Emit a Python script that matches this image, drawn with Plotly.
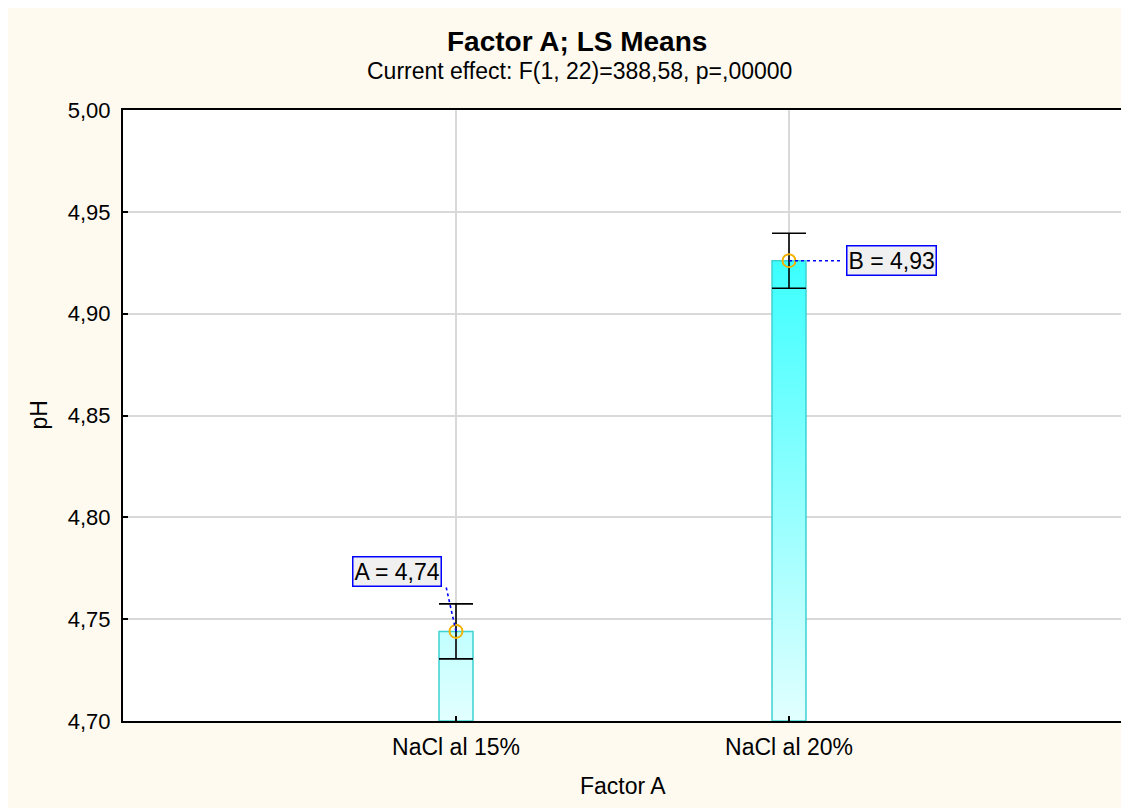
import plotly.graph_objects as go

# ---- data ----
categories = ["NaCl al 15%", "NaCl al 20%"]
point_labels = ["A", "B"]
means = [4.744, 4.926]
errors = [0.0135, 0.0135]
y_min = 4.70
y_max = 5.00
y_ticks = [4.70, 4.75, 4.80, 4.85, 4.90, 4.95, 5.00]

title = "Factor A; LS Means"
subtitle = "Current effect: F(1, 22)=388,58, p=,00000"
x_title = "Factor A"
y_title = "pH"

# ---- style ----
FONT = "Liberation Sans, Arial, sans-serif"
CREAM = "#FEFAF0"
BAR_HALF = 0.051
label_offsets = [(-59.5, 59.5), (102.5, 0)]   # px offsets of label boxes
line_ends = [(-10, 45), (53, 0)]             # px ends of dotted leaders

# page places the figure at (8, 8) (body margin)
BODY = 8
W, H = 1129, 808
SX0, SX1, SY0, SY1 = 123, 1122, 110, 721   # plot area on screen
L = SX0 - BODY
T = SY0 - BODY
R = W - (SX1 - BODY)
B = H - (SY1 - BODY)
pw, ph = SX1 - SX0, SY1 - SY0


def px_to_paper_x(sx):
    return (sx - SX0) / pw


def px_to_paper_y(sy):
    return (SY1 - sy) / ph


fig = go.Figure()

xs = list(range(len(categories)))

# bars with vertical gradient
for i, m in zip(xs, means):
    fig.add_trace(go.Scatter(
        x=[i - BAR_HALF, i + BAR_HALF, i + BAR_HALF, i - BAR_HALF, i - BAR_HALF],
        y=[y_min, y_min, m, m, y_min],
        mode="lines",
        fill="toself",
        fillgradient=dict(type="vertical",
                          colorscale=[[0, "#E2FFFF"], [1, "#3CFFFF"]],
                          start=y_min, stop=max(means)),
        line=dict(color="#3CD2D2", width=1.5),
        hoverinfo="skip",
        showlegend=False,
    ))

# means with error bars
fig.add_trace(go.Scatter(
    x=xs, y=means, mode="markers",
    marker=dict(symbol="circle-open", size=13, color="#F2B300",
                line=dict(width=1.6, color="#F2B300")),
    error_y=dict(type="data", array=errors, symmetric=True,
                 color="black", thickness=1.6, width=17),
    showlegend=False,
))

# re-draw markers on top of error bars
fig.add_trace(go.Scatter(
    x=xs, y=means, mode="markers",
    marker=dict(symbol="circle-open", size=13, color="#F2B300",
                line=dict(width=1.6, color="#F2B300")),
    showlegend=False, hoverinfo="skip",
))

shapes = []
annotations = []
for i, (m, lab, off, le) in enumerate(zip(means, point_labels, label_offsets, line_ends)):
    shapes.append(dict(
        type="line", xref="x", yref="y",
        xsizemode="pixel", ysizemode="pixel",
        xanchor=i, yanchor=m, x0=0, y0=0, x1=le[0], y1=le[1],
        line=dict(color="#0000FF", width=1.6, dash="dot"),
        layer="above",
    ))
    annotations.append(dict(
        x=i, y=m, xref="x", yref="y",
        text=f"{lab} = {m:.2f}".replace(".", ","),
        showarrow=False, xanchor="center", yanchor="middle",
        xshift=off[0], yshift=off[1],
        bgcolor="#F0F0F0", bordercolor="#0000FF", borderwidth=1.5, borderpad=1,
        font=dict(family=FONT, size=23, color="black"),
    ))

annotations += [
    dict(text=f"<b>{title}</b>", xref="paper", yref="paper",
         x=px_to_paper_x(577), y=px_to_paper_y(41), showarrow=False,
         xanchor="center", yanchor="middle",
         font=dict(family=FONT, size=28, color="black")),
    dict(text=subtitle, xref="paper", yref="paper",
         x=px_to_paper_x(579), y=px_to_paper_y(71), showarrow=False,
         xanchor="center", yanchor="middle",
         font=dict(family=FONT, size=23, color="black")),
    dict(text=x_title, xref="paper", yref="paper",
         x=0.5, y=px_to_paper_y(786), showarrow=False,
         xanchor="center", yanchor="middle",
         font=dict(family=FONT, size=23, color="black")),
    dict(text=y_title, xref="paper", yref="paper", textangle=-90,
         x=px_to_paper_x(38), y=0.5, showarrow=False,
         xanchor="center", yanchor="middle",
         font=dict(family=FONT, size=23, color="black")),
]

fig.update_layout(
    width=W, height=H,
    margin=dict(l=L, r=R, t=T, b=B, pad=0),
    paper_bgcolor=CREAM, plot_bgcolor="white",
    separators=",.",
    showlegend=False,
    shapes=shapes, annotations=annotations,
    font=dict(family=FONT, size=22, color="black"),
)
fig.update_xaxes(
    range=[-1, 2], tickvals=xs, ticktext=categories,
    showgrid=True, gridcolor="#D9D9D9", gridwidth=1.5, zeroline=False,
    showline=True, linecolor="black", linewidth=2, mirror=True,
    ticks="inside", ticklen=5, tickcolor="black", tickwidth=1.5,
    ticklabelstandoff=4,
    tickfont=dict(family=FONT, size=23),
)
fig.update_yaxes(
    range=[y_min, y_max], tickvals=y_ticks, tickformat=".2f",
    showgrid=True, gridcolor="#D9D9D9", gridwidth=1.5, zeroline=False,
    showline=True, linecolor="black", linewidth=2, mirror=True,
    ticks="inside", ticklen=5, tickcolor="black", tickwidth=1.5,
    ticklabelstandoff=6,
    tickfont=dict(family=FONT, size=22),
)

fig.write_html("out.html")
